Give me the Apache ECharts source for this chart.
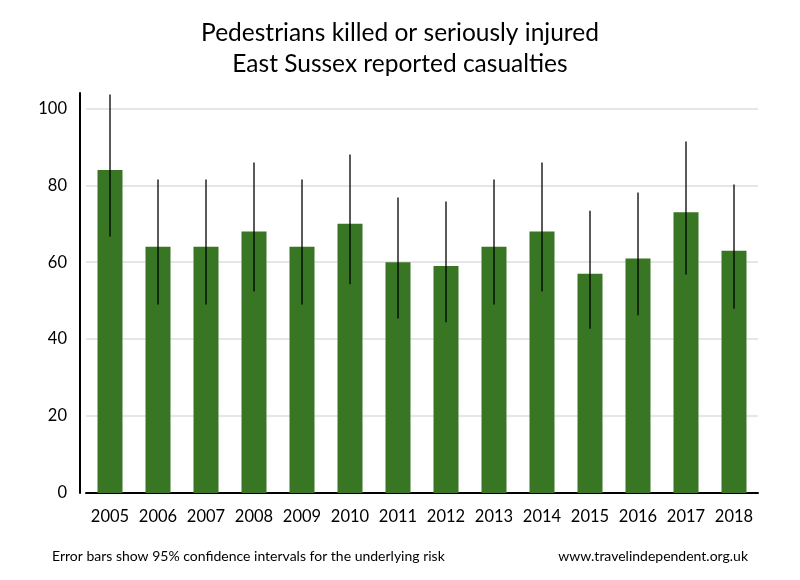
<!DOCTYPE html>
<html>
<head>
<meta charset="utf-8">
<script src="https://cdn.jsdelivr.net/npm/echarts@6/dist/echarts.min.js"></script>
<style>
  html, body { margin: 0; padding: 0; background: #fff; }
  #chart { width: 800px; height: 580px; }
</style>
</head>
<body>
<div id="chart"></div>
<script>
// casualty counts by year
const years = ['2005', '2006', '2007', '2008', '2009', '2010', '2011', '2012', '2013', '2014', '2015', '2016', '2017', '2018']
const casualties = [84, 64, 64, 68, 64, 70, 60, 59, 64, 68, 57, 61, 73, 63]
// 95% confidence interval
const ciLow = [66.7, 49, 49, 52.4, 49, 54.3, 45.4, 44.4, 49, 52.4, 42.7, 46.2, 56.8, 47.9]
const ciHigh = [103.6, 81.5, 81.5, 85.9, 81.5, 88, 76.8, 75.8, 81.5, 85.9, 73.4, 78.1, 91.4, 80.2]
const gridValues = [20, 40, 60, 80, 100]

const font = 'Lato, "Open Sans", sans-serif'

const errData = years.map((y, i) => [i, ciLow[i], ciHigh[i]])

var myChart = echarts.init(document.getElementById('chart'))
myChart.setOption({
  animation: false,
  textStyle: { fontFamily: font },
  title: [
    {
      text: 'Pedestrians killed or seriously injured\nEast Sussex reported casualties',
      left: 'center',
      top: 13,
      textStyle: { fontSize: 24.5, fontWeight: 'normal', color: '#000', lineHeight: 31, fontFamily: font }
    },
    {
      text: 'Error bars show 95% confidence intervals for the underlying risk',
      left: 47,
      top: 544,
      textStyle: { fontSize: 14, fontWeight: 'normal', color: '#000', fontFamily: font }
    },
    {
      text: 'www.travelindependent.org.uk',
      right: 47,
      top: 544,
      textStyle: { fontSize: 14, fontWeight: 'normal', color: '#000', fontFamily: font }
    }
  ],
  grid: { left: 86, right: 42, top: 93, bottom: 87 },
  xAxis: {
    type: 'category',
    data: years,
    axisLine: { lineStyle: { color: '#000', width: 2 } },
    axisTick: { show: false },
    axisLabel: { color: '#000', fontSize: 16.5, margin: 15, interval: 0 }
  },
  yAxis: {
    type: 'value',
    min: 0,
    max: 104,
    interval: 20,
    offset: 6,
    axisLine: { show: true, lineStyle: { color: '#000', width: 2 } },
    axisTick: { show: false },
    splitLine: { show: false },
    axisLabel: {
      color: '#000',
      fontSize: 16.5,
      margin: 13,
      formatter: v => (v % 20 === 0 ? v : '')
    }
  },
  series: [
    {
      // gridlines behind the bars
      type: 'line',
      data: [],
      z: 0,
      markLine: {
        silent: true,
        z: 0,
        symbol: 'none',
        label: { show: false },
        lineStyle: { color: '#e6e6e6', width: 2, type: 'solid' },
        data: gridValues.map(v => ({ yAxis: v }))
      }
    },
    {
      type: 'bar',
      data: casualties,
      barWidth: 25,
      z: 10,
      itemStyle: { color: '#387623' }
    },
    {
      type: 'custom',
      z: 11,
      data: errData,
      renderItem: function (params, api) {
        const lo = api.coord([api.value(0), api.value(1)])
        const hi = api.coord([api.value(0), api.value(2)])
        return {
          type: 'line',
          shape: { x1: lo[0], y1: lo[1], x2: hi[0], y2: hi[1] },
          style: { stroke: '#000', lineWidth: 1.3 }
        }
      }
    }
  ]
})
</script>
</body>
</html>
